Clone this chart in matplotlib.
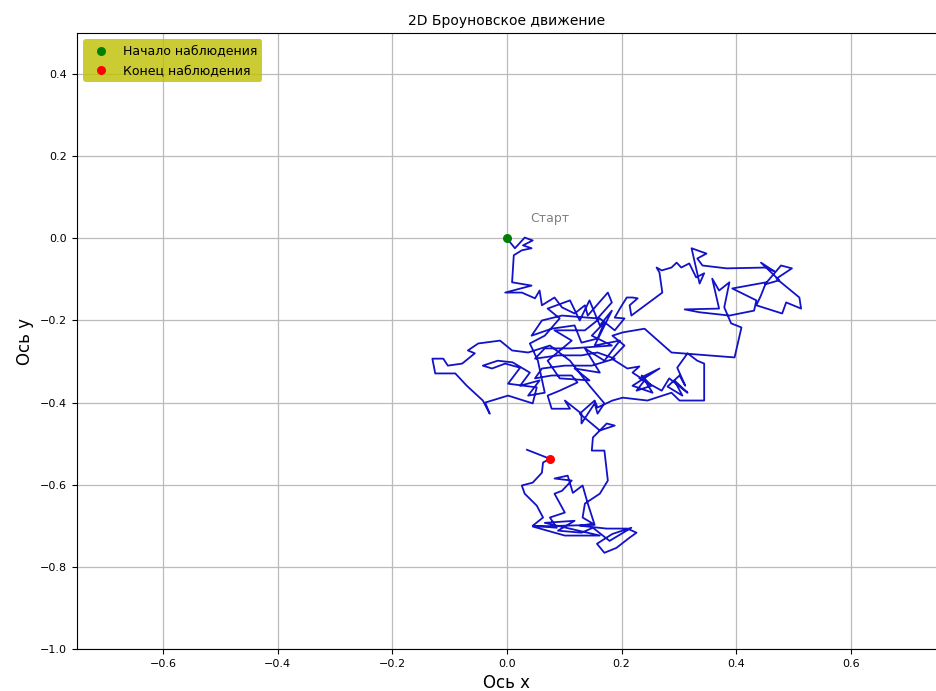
import matplotlib
matplotlib.use("Agg")
import matplotlib.pyplot as plt

# Path (data units)
path_x = [0.000, 0.014, 0.031, 0.045, 0.028, 0.043, 0.026, 0.012, 0.009, 0.043, -0.003, 0.026, 0.049, 0.057, 0.061, 0.083, 0.096, 0.118, 0.136, 0.141, 0.176, 0.183, 0.158,
          0.096, 0.061, 0.043, 0.078, 0.118, 0.130, 0.158, 0.170, 0.148, 0.183, 0.113, 0.066, 0.049, 0.089, 0.130, 0.158, 0.188, 0.148, 0.101, 0.061, 0.049, 0.078, 0.113, 0.123, 0.092, 0.071, 0.078, 0.110, 0.101, 0.130, 0.130, 0.153, 0.158, 0.170, 0.144, 0.110, 0.075, 0.037, 0.009,
          -0.012, -0.050, -0.068, -0.056, -0.078, -0.103, -0.111, -0.130, -0.125, -0.090, -0.070, -0.042, -0.030, -0.038, 0.002, 0.045, 0.052, 0.002, 0.023, -0.003, -0.026, -0.042,
          -0.016, 0.010, 0.040, 0.023, 0.057, 0.037, 0.066, 0.054, 0.040, 0.066, 0.092, 0.071, 0.110, 0.127, 0.144, 0.162, 0.183, 0.153, 0.197, 0.170, 0.136, 0.162, 0.118, 0.144, 0.092, 0.071, 0.113, 0.083, 0.136, 0.162, 0.188, 0.205, 0.188,
          0.197, 0.209, 0.219, 0.228, 0.214, 0.217, 0.271, 0.266, 0.261, 0.270, 0.287, 0.296, 0.304, 0.318, 0.330, 0.344, 0.336, 0.322, 0.348, 0.332, 0.341, 0.383, 0.452, 0.466, 0.443, 0.475, 0.450, 0.478, 0.497, 0.470, 0.510, 0.513, 0.487, 0.480, 0.435, 0.443, 0.452, 0.393, 0.435, 0.431, 0.388, 0.336, 0.310, 0.370, 0.358, 0.370, 0.388, 0.379, 0.391, 0.409, 0.397, 0.287, 0.240, 0.202, 0.184,
          0.205, 0.183, 0.210, 0.231, 0.219, 0.240, 0.226, 0.252, 0.235, 0.254, 0.219, 0.266, 0.231, 0.270, 0.283, 0.315, 0.292, 0.306, 0.280, 0.301, 0.311, 0.297, 0.315, 0.332, 0.344, 0.344, 0.301, 0.287, 0.245, 0.202, 0.184, 0.158, 0.153, 0.127,
          0.162, 0.188, 0.174, 0.150, 0.148, 0.170, 0.176, 0.162, 0.136, 0.132, 0.150, 0.127, 0.174, 0.210, 0.226, 0.214, 0.191, 0.170, 0.157, 0.184, 0.217, 0.179, 0.150, 0.130, 0.089, 0.118, 0.066, 0.162, 0.101, 0.045, 0.153, 0.141, 0.132, 0.115, 0.106, 0.083, 0.113, 0.096, 0.083, 0.101, 0.075, 0.087, 0.045, 0.063, 0.052, 0.031, 0.026, 0.045, 0.061, 0.063, 0.075, 0.035]
path_y = [0.000, -0.024, 0.002, -0.005, -0.017, -0.024, -0.029, -0.041, -0.107, -0.115, -0.132, -0.132, -0.146, -0.127, -0.163, -0.144, -0.168, -0.183, -0.163, -0.188, -0.132, -0.156, -0.195,
          -0.188, -0.200, -0.237, -0.220, -0.212, -0.254, -0.244, -0.205, -0.237, -0.261, -0.268, -0.268, -0.293, -0.285, -0.285, -0.278, -0.293, -0.310, -0.310, -0.317, -0.341, -0.334, -0.334, -0.351, -0.371, -0.383, -0.415, -0.415, -0.395, -0.427, -0.451, -0.402, -0.427, -0.402, -0.359, -0.298, -0.261, -0.278, -0.273,
          -0.249, -0.256, -0.273, -0.280, -0.305, -0.310, -0.293, -0.293, -0.329, -0.329, -0.359, -0.395, -0.427, -0.400, -0.383, -0.402, -0.363, -0.354, -0.315, -0.305, -0.317, -0.310,
          -0.298, -0.302, -0.327, -0.359, -0.346, -0.383, -0.376, -0.298, -0.256, -0.237, -0.195, -0.171, -0.151, -0.200, -0.151, -0.212, -0.176, -0.261, -0.249, -0.298, -0.268, -0.327, -0.317, -0.346, -0.341, -0.298, -0.249, -0.224, -0.224, -0.195, -0.224, -0.195, -0.193,
          -0.171, -0.144, -0.144, -0.146, -0.163, -0.188, -0.132, -0.083, -0.071, -0.078, -0.071, -0.059, -0.071, -0.061, -0.095, -0.085, -0.110, -0.024, -0.037, -0.049, -0.066, -0.073, -0.071, -0.080, -0.059, -0.102, -0.112, -0.066, -0.073, -0.098, -0.144, -0.171, -0.156, -0.183, -0.163, -0.139, -0.107, -0.122, -0.151, -0.176, -0.188, -0.180, -0.173, -0.171, -0.098, -0.127, -0.107, -0.168, -0.207, -0.217, -0.290, -0.278, -0.220, -0.229, -0.237,
          -0.261, -0.293, -0.317, -0.312, -0.327, -0.346, -0.371, -0.359, -0.334, -0.376, -0.359, -0.317, -0.341, -0.371, -0.341, -0.376, -0.346, -0.383, -0.361, -0.334, -0.359, -0.315, -0.280, -0.298, -0.305, -0.395, -0.395, -0.376, -0.395, -0.388, -0.395, -0.412, -0.395, -0.427,
          -0.468, -0.456, -0.451, -0.485, -0.517, -0.517, -0.590, -0.622, -0.646, -0.680, -0.695, -0.700, -0.707, -0.707, -0.717, -0.729, -0.754, -0.766, -0.744, -0.720, -0.705, -0.737, -0.705, -0.717, -0.712, -0.688, -0.693, -0.724, -0.724, -0.702, -0.698, -0.646, -0.602, -0.620, -0.578, -0.585, -0.590, -0.615, -0.622, -0.668, -0.680, -0.705, -0.700, -0.680, -0.651, -0.622, -0.602, -0.595, -0.571, -0.546, -0.537, -0.515]

start_point = (0.0, 0.0)
end_point = (0.075, -0.537)

x_ticks = [-0.6, -0.4, -0.2, 0.0, 0.2, 0.4, 0.6]
y_ticks = [-1.0, -0.8, -0.6, -0.4, -0.2, 0.0, 0.2, 0.4]

fig = plt.figure(figsize=(9.37, 6.91), dpi=100)
ax = fig.add_axes([0.082, 0.061, 0.918, 0.891])

ax.plot(path_x, path_y, color='#1212c8', lw=1.3, zorder=2)
ax.scatter([start_point[0]], [start_point[1]], color='green', s=30, zorder=3, label='Начало наблюдения')
ax.scatter([end_point[0]], [end_point[1]], color='red', s=30, zorder=3, label='Конец наблюдения')
ax.annotate('Старт', xy=start_point, xytext=(0.04, 0.04), color='gray', fontsize=9)

ax.set_xlim(-0.75, 0.75)
ax.set_ylim(-1.0, 0.5)
ax.set_xticks(x_ticks)
ax.set_yticks(y_ticks)
ax.tick_params(labelsize=8)
ax.grid(True, color='#bbbbbb', lw=0.9)
ax.set_axisbelow(True)
ax.set_title('2D Броуновское движение', fontsize=10)
ax.set_xlabel('Ось x', fontsize=12)
ax.set_ylabel('Ось y', fontsize=12)
ax.legend(loc='upper left', facecolor='y', framealpha=0.8, edgecolor='none', fontsize=9)

fig.savefig('out.png', dpi=100)
